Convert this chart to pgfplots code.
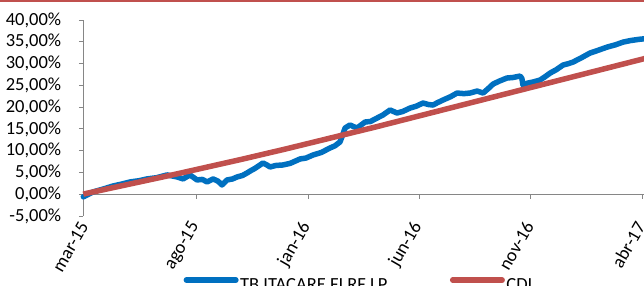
\documentclass[border=0pt]{standalone}
\usepackage{pgfplots}
\pgfplotsset{compat=1.18}
\usepackage{fontspec}
\setmainfont{Carlito}
\definecolor{serieblue}{RGB}{0,112,192}
\definecolor{seriered}{RGB}{192,80,77}
\definecolor{axisgray}{RGB}{134,134,134}

\pgfplotstableread{
m v
-0.10 -0.60
0.34 0.53
0.80 1.20
1.24 1.90
1.60 2.30
2.00 2.82
2.40 3.10
2.76 3.51
3.20 3.80
3.66 4.43
4.11 3.97
4.38 3.51
4.69 4.43
5.01 3.28
5.25 3.40
5.46 2.82
5.73 3.51
5.95 3.00
6.13 2.13
6.36 3.28
6.60 3.50
6.81 3.97
7.05 4.30
7.26 4.89
7.40 5.34
7.60 5.90
7.84 6.72
7.97 7.18
8.12 6.80
8.29 6.26
8.55 6.60
8.87 6.72
9.20 7.10
9.64 8.10
9.90 8.30
10.22 9.01
10.60 9.60
10.98 10.62
11.20 11.10
11.43 12.00
11.55 13.60
11.66 15.21
11.88 15.90
12.05 15.50
12.20 15.21
12.56 16.58
12.80 16.70
13.10 17.50
13.36 18.19
13.68 19.34
13.99 18.65
14.25 19.00
14.58 19.79
14.85 20.20
15.16 20.94
15.40 20.60
15.61 20.48
15.80 21.00
16.06 21.63
16.40 22.40
16.69 23.23
17.00 23.10
17.27 23.23
17.59 23.69
17.86 23.23
18.10 24.30
18.31 25.30
18.60 26.00
18.93 26.68
19.20 26.80
19.52 27.13
19.60 26.60
19.65 25.07
19.85 25.50
20.10 25.76
20.42 26.22
20.65 27.00
20.87 27.82
21.15 28.60
21.45 29.66
21.70 30.00
21.90 30.34
22.30 31.40
22.66 32.41
23.00 33.00
23.43 33.78
23.80 34.30
24.15 34.93
24.50 35.30
24.92 35.60
25.15 35.70
}\blueseries

\pgfplotstableread{
m v
-0.10 0.00
0 0.15
1 1.25
2 2.35
3 3.45
4 4.55
5 5.70
6 6.85
7 8.00
8 9.20
9 10.40
10 11.65
11 12.90
12 14.15
13 15.40
14 16.70
15 18.00
16 19.30
17 20.60
18 21.90
19 23.20
20 24.50
21 25.80
22 27.10
23 28.40
24 29.70
25 31.00
25.15 31.20
}\redseries

\begin{document}
\begin{tikzpicture}[x=1pt,y=1pt,font=\fontsize{18.5}{22}\selectfont]
\path[use as bounding box] (0,0) rectangle (644,285);
\begin{scope}
\clip (0,0) rectangle (644,285);
\begin{axis}[
  at={(83.3pt,69pt)}, anchor=south west,
  scale only axis, width=562.1pt, height=196pt,
  xmin=-0.1, xmax=25.15, ymin=-5, ymax=40,
  axis x line=middle, axis y line=left,
  axis line style={axisgray, line width=0.8pt, -},
  hide obscured x ticks=false, hide obscured y ticks=false,
  tick align=outside,
  major tick length=4.5pt,
  tick style={axisgray, line width=0.8pt},
  xtick={0,5,10,15,20,25},
  xticklabels={mar-15,ago-15,jan-16,jun-16,nov-16,abr-17},
  ytick={-5,0,5,10,15,20,25,30,35,40},
  yticklabels={{-5,00\%},{0,00\%},{5,00\%},{10,00\%},{15,00\%},{20,00\%},{25,00\%},{30,00\%},{35,00\%},{40,00\%}},
  ticklabel style={font=\fontsize{18.5}{22}\selectfont, text=black},
  xticklabel style={xshift=-1.5pt, yshift=-24.7pt, rotate=60, anchor=east, inner sep=0pt},
  yticklabel style={xshift=-17.5pt, anchor=east, inner sep=0pt},
  clip=false,
  legend columns=2,
  legend style={
    at={(axis description cs:0.1785,-0.3525)}, anchor=west,
    draw=none, fill=none, inner sep=0pt, outer sep=0pt,
    nodes={inner sep=1.5pt},
    font=\fontsize{18.5}{22}\selectfont,
    /tikz/every even column/.append style={column sep=61pt},
  },
  legend image code/.code={\draw[#1, line width=5.5pt, line cap=round] (2.75pt,5pt) -- (52.25pt,5pt);},
]
\addplot[serieblue, line width=5.5pt, line join=round, line cap=round] table[x=m, y=v] {\blueseries};
\addlegendentry{TB ITACARE FI RF LP}
\addplot[seriered, line width=5.5pt, line join=round] table[x=m, y=v] {\redseries};
\addlegendentry{CDI}
\end{axis}
\fill[seriered] (0,283.3) rectangle (644,285);
\end{scope}
\end{tikzpicture}
\end{document}
